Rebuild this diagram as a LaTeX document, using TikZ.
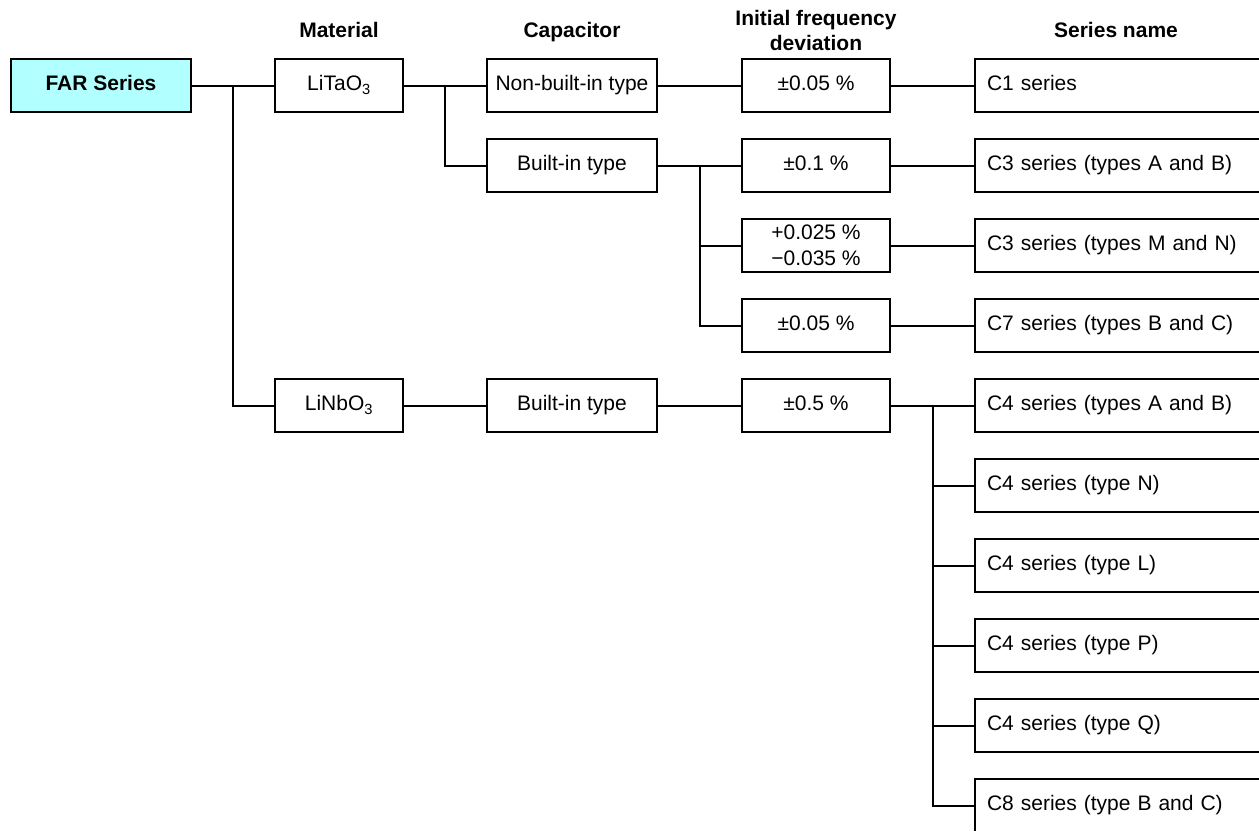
\documentclass[tikz,border=0pt]{standalone}
\usepackage{fontspec}
\setmainfont{Liberation Sans}
\usetikzlibrary{calc}
\definecolor{farcyan}{RGB}{178,255,255}
\begin{document}
\begin{tikzpicture}[x=1pt,y=-1pt,
  bx/.style={draw, line width=2pt, minimum height=53pt, inner sep=0pt,
    font=\fontsize{21}{25}\selectfont, text height=15.2pt, text depth=4.4pt},
  fbox/.style={bx, minimum width=148pt},
  cbox/.style={bx, minimum width=170pt},
  mbox/.style={bx, minimum width=128pt},
  sbox/.style={bx, anchor=west, text width=266pt, align=left, inner xsep=12pt},
  hd/.style={font=\fontsize{21}{25}\selectfont\bfseries, anchor=base, inner sep=0pt},
  ln/.style={line width=2pt}]
\useasboundingbox (0,0) rectangle (1259,831);
\clip (0,0) rectangle (1259,830.2);

% headers
\node[hd] (hmat) at (339,37) {Material};
\node[hd] (hcap) at (572,37) {Capacitor};
\node[hd, anchor=center, align=center] (hfreq) at (816,30.6) {Initial frequency\\deviation};
\node[hd] (hser) at (1116,37) {Series name};

% root
\node[bx, fill=farcyan, font=\fontsize{21}{25}\selectfont\bfseries, minimum width=180pt] (far) at (101,85.5) {FAR Series};

% material
\node[mbox] (lita) at (339,85.5) {LiTaO\textsubscript{3}};
\node[mbox] (linb) at (339,405.5) {LiNbO\textsubscript{3}};

% capacitor
\node[cbox] (nbi) at (572,85.5) {Non-built-in type};
\node[cbox] (bi1) at (572,165.5) {Built-in type};
\node[cbox] (bi2) at (572,405.5) {Built-in type};

% frequency deviation
\node[fbox] (f1) at (816,85.5) {±0.05 \%};
\node[fbox] (f2) at (816,165.5) {±0.1 \%};
\node[bx, minimum width=148pt, text height=, text depth=, align=center, font=\fontsize{21}{26.5}\selectfont] (f3) at (816,245.5) {+0.025 \%\\−0.035 \%};
\node[fbox] (f4) at (816,325.5) {±0.05 \%};
\node[fbox] (f5) at (816,405.5) {±0.5 \%};

% series names
\node[sbox] (s1) at (974,85.5) {C1 series};
\node[sbox] (s2) at (974,165.5) {C3 series (types A and B)};
\node[sbox] (s3) at (974,245.5) {C3 series (types M and N)};
\node[sbox] (s4) at (974,325.5) {C7 series (types B and C)};
\node[sbox] (s5) at (974,405.5) {C4 series (types A and B)};
\node[sbox] (s6) at (974,485.5) {C4 series (type N)};
\node[sbox] (s7) at (974,565.5) {C4 series (type L)};
\node[sbox] (s8) at (974,645.5) {C4 series (type P)};
\node[sbox] (s9) at (974,725.5) {C4 series (type Q)};
\node[sbox] (s10) at (974,805.5) {C8 series (type B and C)};

% connectors
\coordinate (j1) at ($(far.east)!0.5!(lita.west)$);
\coordinate (j2) at ($(lita.east)!0.5!(nbi.west)$);
\coordinate (j3) at ($(bi1.east)!0.5!(f2.west)$);
\coordinate (j4) at ($(f5.east)!0.5!(s5.west)$);

\draw[ln] (far.east) -- (lita.west);
\draw[ln] (j1) |- (linb.west);
\draw[ln] (lita.east) -- (nbi.west);
\draw[ln] (j2) |- (bi1.west);
\draw[ln] (linb.east) -- (bi2.west);
\draw[ln] (nbi.east) -- (f1.west);
\draw[ln] (bi1.east) -- (f2.west);
\draw[ln] (j3) |- (f3.west);
\draw[ln] (j3) |- (f4.west);
\draw[ln] (bi2.east) -- (f5.west);
\draw[ln] (f1.east) -- (s1.west);
\draw[ln] (f2.east) -- (s2.west);
\draw[ln] (f3.east) -- (s3.west);
\draw[ln] (f4.east) -- (s4.west);
\draw[ln] (f5.east) -- (s5.west);
\foreach \i in {6,...,10} {\draw[ln] (j4) |- (s\i.west);}
\end{tikzpicture}
\end{document}
